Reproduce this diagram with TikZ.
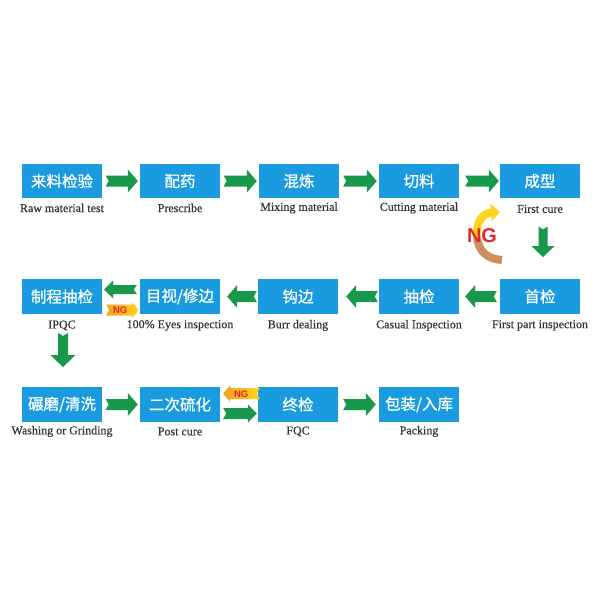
\documentclass[tikz,border=0pt]{standalone}
\usepackage{fontspec}
\setmainfont{Liberation Serif}
\newfontfamily\cjk[FakeBold=0.6]{Noto Sans CJK SC}
\newfontfamily\lblfont[FakeBold=0.35]{Liberation Serif}
\newfontfamily\ngfont{Liberation Sans}
\usetikzlibrary{calc,arrows.meta}
\definecolor{boxblue}{HTML}{1A9BE0}
\definecolor{agreen}{HTML}{17984A}
\definecolor{ngred}{HTML}{E3262D}
\definecolor{ngyel}{HTML}{FFD41E}
\definecolor{ngora}{HTML}{F5A020}
\definecolor{ngtan}{HTML}{CD8F5E}
\definecolor{lblgray}{HTML}{333333}
\tikzset{
  stepbox/.style={fill=boxblue, minimum width=80pt, minimum height=34.5pt, inner sep=0pt,
    text=white, font=\cjk\fontsize{15.5}{16}\selectfont},
  lbl/.style={text=lblgray, font=\lblfont\fontsize{12}{12}\selectfont, inner sep=0pt},
  garrow/.style={fill=agreen},
  ngarrow/.style={left color=ngora, right color=ngyel},
  ngtxt/.style={text=ngred, font=\ngfont\bfseries\fontsize{9.5}{10}\selectfont, inner sep=0pt},
  ngbig/.style={text=ngred, font=\ngfont\bfseries\fontsize{20}{20}\selectfont, inner sep=0pt}
}
% horizontal block arrow: style, tail, tip, half shaft, half head, head length
\newcommand\harrow[6]{%
  \path[#1] let \p1=#2, \p2=#3, \n1={sign(\x2-\x1)} in
    ({\x1},{\y1+#4}) -- ({\x2-\n1*#6},{\y1+#4}) -- ({\x2-\n1*#6},{\y1+#5}) -- ({\x2},{\y1})
    -- ({\x2-\n1*#6},{\y1-#5}) -- ({\x2-\n1*#6},{\y1-#4}) -- ({\x1},{\y1-#4})
    -- ({\x1+\n1*3pt},{\y1}) -- cycle;}
% vertical block arrow
\newcommand\varrow[6]{%
  \path[#1] let \p1=#2, \p2=#3, \n1={sign(\y2-\y1)} in
    ({\x1+#4},{\y1}) -- ({\x1+#4},{\y2-\n1*#6}) -- ({\x1+#5},{\y2-\n1*#6}) -- ({\x1},{\y2})
    -- ({\x1-#5},{\y2-\n1*#6}) -- ({\x1-#4},{\y2-\n1*#6}) -- ({\x1-#4},{\y1})
    -- ({\x1},{\y1+\n1*3pt}) -- cycle;}
\begin{document}
\begin{tikzpicture}[x=1pt,y=-1pt]
\useasboundingbox[fill=white] (0,0) rectangle (600,600);
% row 1
\node[stepbox] (a1) at (62,181) {来料检验};
\node[stepbox] (a2) at (180,181) {配药};
\node[stepbox] (a3) at (299,181) {混炼};
\node[stepbox] (a4) at (419,181) {切料};
\node[stepbox] (a5) at (540,181) {成型};
% row 2
\node[stepbox] (b1) at (62,296.5) {制程抽检};
\node[stepbox] (b2) at (180,296.5) {目视/修边};
\node[stepbox] (b3) at (298,296.5) {钩边};
\node[stepbox] (b4) at (419,296.5) {抽检};
\node[stepbox] (b5) at (540,296.5) {首检};
% row 3
\node[stepbox] (c1) at (62,404.5) {碾磨/清洗};
\node[stepbox] (c2) at (180,404.5) {二次硫化};
\node[stepbox] (c3) at (298,404.5) {终检};
\node[stepbox] (c4) at (419,404.5) {包装/入库};
% labels
\node[lbl] (la1) at ($(a1.south)+(0,9.5)$) {Raw material test};
\node[lbl] (la2) at ($(a2.south)+(0,9.5)$) {Prescribe};
\node[lbl] (la3) at ($(a3.south)+(0,9.5)$) {Mixing material};
\node[lbl] (la4) at ($(a4.south)+(0,9.5)$) {Cutting material};
\node[lbl] (la5) at ($(a5.south)+(0,10.5)$) {First cure};
\node[lbl] (lb1) at ($(b1.south)+(0,11.5)$) {IPQC};
\node[lbl] (lb2) at ($(b2.south)+(0,11.5)$) {100\% Eyes inspection};
\node[lbl] (lb3) at ($(b3.south)+(0,11.5)$) {Burr dealing};
\node[lbl] (lb4) at ($(b4.south)+(0,11.5)$) {Casual Inspection};
\node[lbl] (lb5) at ($(b5.south)+(0,11.5)$) {First part inspection};
\node[lbl] (lc1) at ($(c1.south)+(0,9.5)$) {Washing or Grinding};
\node[lbl] (lc2) at ($(c2.south)+(0,9.5)$) {Post cure};
\node[lbl] (lc3) at ($(c3.south)+(0,9.5)$) {FQC};
\node[lbl] (lc4) at ($(c4.south)+(0,9.5)$) {Packing};
% row 1 arrows
\harrow{garrow}{($(a1.east)+(3.5,0)$)}{($(a2.west)+(-2,0)$)}{5.5pt}{11.5pt}{10pt}
\harrow{garrow}{($(a2.east)+(3.5,0)$)}{($(a3.west)+(-2,0)$)}{5.5pt}{11.5pt}{10pt}
\harrow{garrow}{($(a3.east)+(4,0)$)}{($(a4.west)+(-2,0)$)}{5.5pt}{11.5pt}{10pt}
\harrow{garrow}{($(a4.east)+(6,0)$)}{($(a5.west)+(-1,0)$)}{5.5pt}{11.5pt}{10pt}
% down arrow first cure
\varrow{garrow}{($(a5.south)+(3,28)$)}{($(b5.north)+(3,-22)$)}{4.5pt}{11.5pt}{11pt}
% row 2 arrows (leftward)
\harrow{garrow}{($(b5.west)+(-3,0)$)}{($(b4.east)+(6,0)$)}{5.5pt}{11.5pt}{10pt}
\harrow{garrow}{($(b4.west)+(-1,0)$)}{($(b3.east)+(8,0)$)}{5.5pt}{11.5pt}{10pt}
\harrow{garrow}{($(b3.west)+(-1,0)$)}{($(b2.east)+(7,0)$)}{5.5pt}{11.5pt}{10pt}
\harrow{garrow}{($(b2.west)+(-3,-7)$)}{($(b1.east)+(2,-7)$)}{4.5pt}{9pt}{9pt}
\harrow{ngarrow}{($(b1.east)+(4,13.5)$)}{($(b2.west)+(-1,13.5)$)}{5.5pt}{8pt}{7pt}
\node[ngtxt] (ng1) at ($(b1.east)+(18,14)$) {NG};
% down arrow IPQC
\varrow{garrow}{($(b1.south)+(1,19)$)}{($(c1.north)+(1,-20)$)}{5pt}{12.5pt}{12pt}
% row 3 arrows
\harrow{garrow}{($(c1.east)+(3.5,0)$)}{($(c2.west)+(-2,0)$)}{5.5pt}{11.5pt}{10pt}
\harrow{garrow}{($(c2.east)+(3,9)$)}{($(c3.west)+(-1,9)$)}{5.5pt}{9pt}{9pt}
\harrow{ngarrow}{($(c3.west)+(2,-11)$)}{($(c2.east)+(3,-11)$)}{5.5pt}{8.5pt}{7pt}
\node[ngtxt] (ng2) at ($(c2.east)+(21,-10.5)$) {NG};
\harrow{garrow}{($(c3.east)+(5,0)$)}{($(c4.west)+(-3,0)$)}{5.5pt}{11.5pt}{10pt}
% curved NG arrow
\draw[line width=8pt, ngtan] (477,236) .. controls (478,252) and (488,259) .. (502,260);
\draw[line width=8pt, ngyel, -{Triangle[length=9pt,width=17pt]}] (477,238) .. controls (475,222) and (483,213) .. (500,212);
\node[ngbig] (ng3) at (482,235.5) {NG};
\end{tikzpicture}
\end{document}
